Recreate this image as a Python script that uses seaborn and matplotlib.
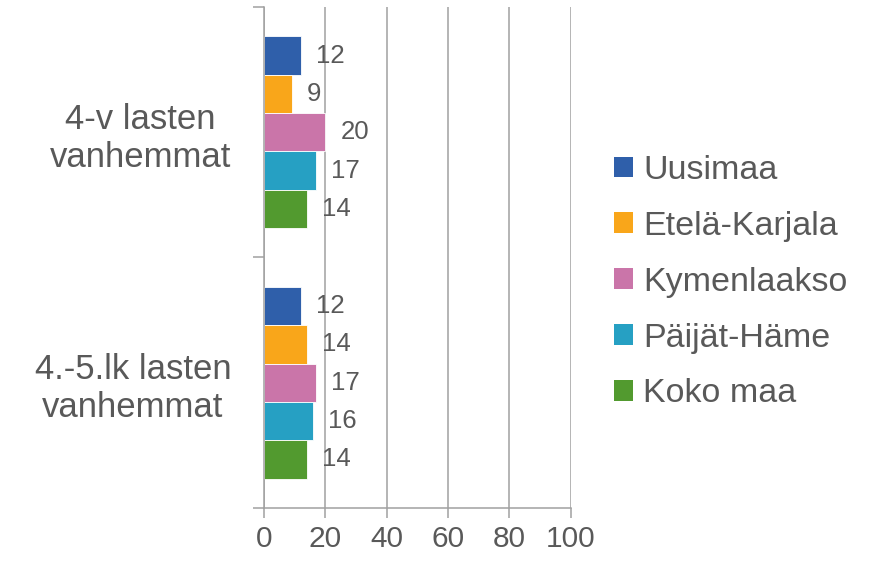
import matplotlib
matplotlib.use("Agg")
import matplotlib.pyplot as plt
from matplotlib.patches import Patch
import pandas as pd
import seaborn as sns

groups = ["4-v lasten\nvanhemmat", "4.-5.lk lasten\nvanhemmat"]
regions = ["Uusimaa", "Etelä-Karjala", "Kymenlaakso", "Päijät-Häme", "Koko maa"]
values_4v = [12, 9, 20, 17, 14]
values_45lk = [12, 14, 17, 16, 14]
colors = ["#2F5FAA", "#F9A61A", "#CA75A9", "#26A0C3", "#529A2F"]

rows = []
for region, a, b in zip(regions, values_4v, values_45lk):
    rows.append({"group": groups[0], "region": region, "value": a})
    rows.append({"group": groups[1], "region": region, "value": b})
df = pd.DataFrame(rows)

sns.set_style("white")
plt.rcParams["font.family"] = ["Liberation Sans", "DejaVu Sans"]
text_color = "#595959"
line_color = "#A0A0A0"

fig = plt.figure(figsize=(8.77, 5.61), dpi=100)
ax = fig.add_axes([0.301, 0.0945, 0.3497, 0.893])

sns.barplot(data=df, y="group", x="value", hue="region", order=groups,
            hue_order=regions, palette=colors, orient="h", width=0.765,
            saturation=1, edgecolor="white", linewidth=0.6, ax=ax, legend=False)

for cont in ax.containers:
    ax.bar_label(cont, padding=11, fontsize=18.5, color=text_color)

ax.set_xlim(0, 100)
ax.set_ylim(1.5, -0.5)
ax.set_xticks([0, 20, 40, 60, 80, 100])
ax.xaxis.grid(True, color=line_color, linewidth=1.1)
ax.set_axisbelow(True)
ax.set_xlabel("")
ax.set_ylabel("")

for side in ["top", "right"]:
    ax.spines[side].set_visible(False)
for side in ["left", "bottom"]:
    ax.spines[side].set_color(line_color)
    ax.spines[side].set_linewidth(1.1)

ax.tick_params(axis="x", direction="out", length=7.5, width=1.1, color=line_color,
               labelsize=21.5, labelcolor=text_color, pad=5, bottom=True)
ax.tick_params(axis="y", which="major", length=0, pad=23.5, labelsize=25,
               labelcolor=text_color)
ax.set_yticks([-0.5, 0.5, 1.5], minor=True)
ax.tick_params(axis="y", which="minor", direction="out", length=8, width=1.1,
               color=line_color, left=True)
for lab in ax.get_yticklabels():
    lab.set_multialignment("center")
    lab.set_linespacing(1.2)

handles = [Patch(facecolor=c, edgecolor="none") for c in colors]
fig.legend(handles, regions, loc="center left", bbox_to_anchor=(0.700, 0.497),
           frameon=False, fontsize=24.5, labelcolor=text_color,
           handlelength=0.56, handleheight=0.56, handletextpad=0.3,
           labelspacing=0.73, borderaxespad=0, borderpad=0)

fig.savefig("out.png", dpi=100)
